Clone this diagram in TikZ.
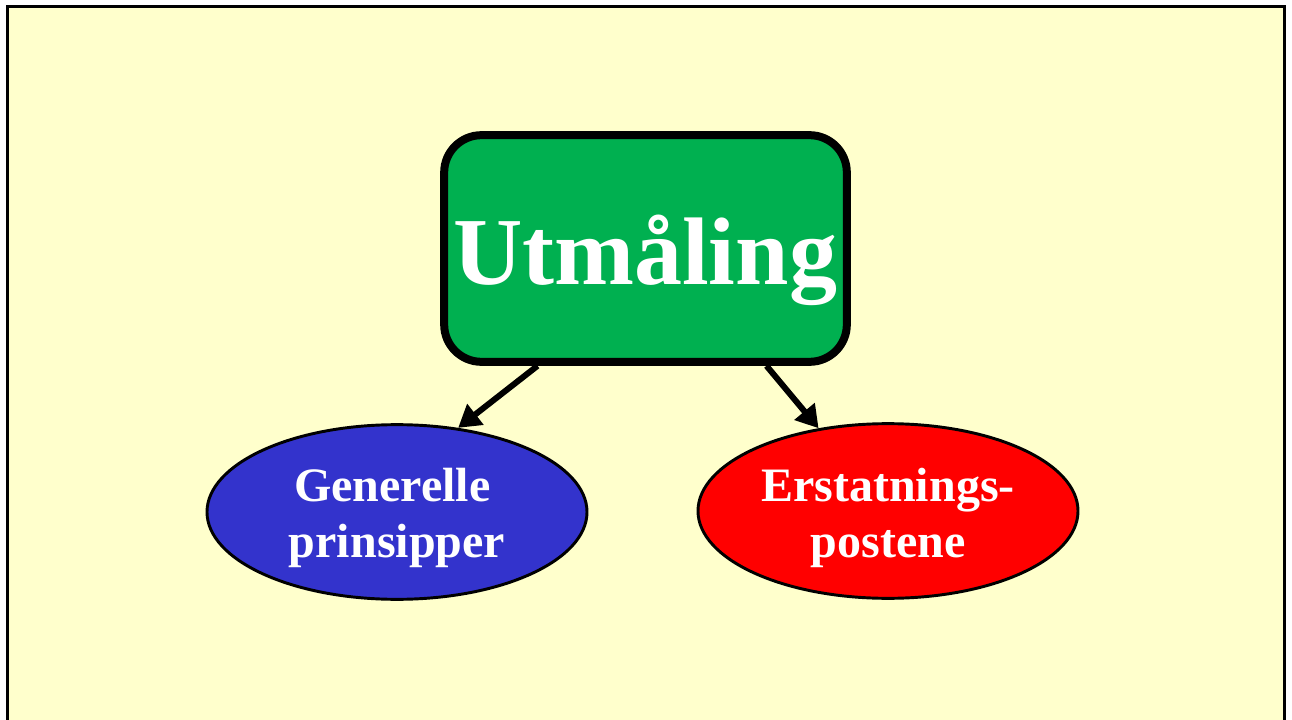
\documentclass[tikz,border=0pt]{standalone}
\usepackage{fontspec}
\setmainfont{Liberation Serif}
\usetikzlibrary{shapes.geometric,arrows.meta,calc}
\definecolor{bgyellow}{HTML}{FFFFCC}
\definecolor{boxgreen}{HTML}{00B050}
\definecolor{ellblue}{HTML}{3333CC}
\definecolor{ellred}{HTML}{FF0000}
\tikzset{
  mainbox/.style={draw=black, line width=6pt, fill=boxgreen, rounded corners=28pt,
    minimum width=302pt, minimum height=170pt, inner sep=0pt},
  oval/.style={ellipse, draw=black, line width=2.2pt, minimum width=285pt,
    minimum height=131pt, inner sep=0pt},
  ovaltext/.style={text=white, align=center, font=\bfseries\fontsize{36}{42}\selectfont},
  link/.style={line width=4.5pt, -{Triangle[length=16.5pt,width=19pt]}}
}
\begin{document}
\begin{tikzpicture}[x=0.75pt,y=-0.75pt]
\useasboundingbox (0,0) rectangle (1292,720);
\fill[white] (0,0) rectangle (1292,720);
\fill[bgyellow] (7.5,6.5) rectangle (1284.7,720);
\draw[line width=2.3pt] (7.5,720) -- (7.5,6.5) -- (1284.7,6.5) -- (1284.7,720);
\node[mainbox] (box) at (645.5,248.5) {};
\node[text=white, font=\bfseries\fontsize{72}{80}\selectfont, anchor=base] (title) at (645,285) {Utmåling};
\node[oval, fill=ellblue] (blue) at (397,512) {};
\node[oval, fill=ellred] (red) at (888,511) {};
\node[ovaltext] (bluetext) at (397,518) {Generelle\hspace*{7pt}\\prinsipper};
\node[ovaltext] (redtext) at (888,518) {Erstatnings-\\postene};
\draw[link] ($(box.south)+(-108,0)$) -- (blue.54);
\draw[link] ($(box.south)+(121,0)$) -- (red.130);
\end{tikzpicture}
\end{document}
